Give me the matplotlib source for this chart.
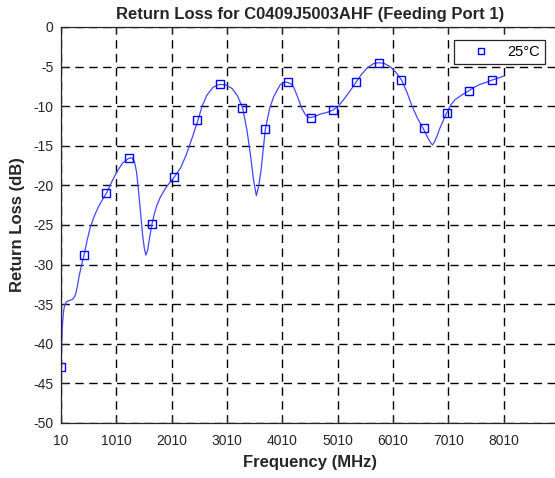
import matplotlib
matplotlib.use("Agg")
import matplotlib.pyplot as plt

# --- data ---
# smooth response curve (MHz, dB)
freq = [10, 22, 34, 50, 70, 100, 131, 175, 215, 250, 276, 305, 336, 380, 427,
        480, 535, 610, 686, 760, 838, 930, 1019, 1120, 1229, 1290, 1338, 1375,
        1410, 1450, 1483, 1515, 1544, 1575, 1604, 1653, 1700, 1743, 1804, 1894,
        1980, 2062, 2170, 2270, 2380, 2484, 2560, 2647, 2760, 2870, 2980, 3100,
        3200, 3292, 3370, 3431, 3490, 3540, 3585, 3625, 3703, 3780, 3853, 3970,
        4050, 4110, 4170, 4212, 4290, 4363, 4430, 4500, 4600, 4694, 4810, 4923,
        5020, 5115, 5230, 5339, 5440, 5538, 5650, 5748, 5850, 5960, 6060, 6165,
        6260, 6346, 6450, 6555, 6640, 6690, 6724, 6760, 6810, 6856, 6977, 7050,
        7127, 7250, 7380, 7480, 7579, 7690, 7801, 7910, 8010]
loss = [-42.9, -40.0, -37.9, -36.3, -35.3, -34.8, -34.6, -34.5, -34.4, -34.1,
        -33.7, -32.8, -31.5, -30.1, -28.8, -27.0, -25.4, -23.9, -22.7, -21.8,
        -20.9, -19.5, -18.3, -17.2, -16.6, -16.5, -17.0, -18.3, -20.6, -23.6,
        -26.1, -27.9, -28.8, -28.2, -26.9, -24.9, -23.5, -22.5, -21.5, -20.4,
        -19.6, -18.9, -17.8, -16.2, -14.0, -11.8, -10.0, -8.6, -7.6, -7.25,
        -7.3, -7.75, -8.7, -10.2, -13.0, -16.0, -19.3, -21.3, -20.0, -18.1,
        -12.9, -10.3, -8.8, -7.3, -6.95, -7.0, -7.2, -7.55, -8.9, -10.3, -11.1,
        -11.45, -11.3, -11.0, -10.8, -10.5, -10.0, -9.2, -8.1, -7.0, -6.0,
        -5.2, -4.65, -4.5, -4.6, -5.0, -5.7, -6.7, -8.2, -9.85, -11.5, -12.8,
        -14.0, -14.6, -14.9, -14.5, -13.7, -12.8, -10.9, -9.9, -9.2, -8.6,
        -8.05, -7.6, -7.25, -7.0, -6.7, -6.45, -6.2]

# marker samples
mk_freq = [10, 420, 830, 1240, 1650, 2060, 2470, 2880, 3290, 3700,
           4110, 4520, 4930, 5340, 5750, 6160, 6570, 6980, 7390, 7800]
mk_loss = [-42.9, -28.8, -20.9, -16.6, -24.9, -18.9, -11.8, -7.2, -10.2, -12.9,
           -7.0, -11.45, -10.5, -7.0, -4.5, -6.7, -12.8, -10.9, -8.05, -6.7]

xticks = [10, 1010, 2010, 3010, 4010, 5010, 6010, 7010, 8010]
yticks = list(range(-50, 1, 5))

plt.rcParams['font.family'] = ['Liberation Sans', 'DejaVu Sans']
plt.rcParams['axes.unicode_minus'] = False
dark = '#262626'

fig = plt.figure(figsize=(5.55, 4.78), dpi=100)
ax = fig.add_axes([61 / 555, 1 - 423 / 478, 498 / 555, 396 / 478])

ax.plot(freq, loss, color='#4646ff', lw=0.9)
ax.plot(mk_freq, mk_loss, ls='none', marker='s', markersize=5.5,
        markerfacecolor='none', markeredgecolor='#0000ff', markeredgewidth=1.0,
        label='25°C')

ax.set_xlim(10, 9010)
ax.set_ylim(-50, 0)
ax.set_xticks(xticks)
ax.set_yticks(yticks)
ax.set_xticklabels([str(t) for t in xticks])
ax.tick_params(direction='in', length=4, width=0.8, colors=dark,
               labelsize=10, top=True)
ax.tick_params(axis='x', pad=8)
ax.tick_params(axis='y', pad=5.5)
for s in ax.spines.values():
    s.set_color(dark)
    s.set_linewidth(0.9)

ax.grid(True, color='black', ls=(0, (6, 4)), lw=1.0)

ax.set_title('Return Loss for C0409J5003AHF (Feeding Port 1)',
             fontsize=12, fontweight='bold', color=dark, pad=6)
ax.set_xlabel('Frequency (MHz)', fontsize=12, fontweight='bold', color=dark,
              labelpad=5)
ax.set_ylabel('Return Loss (dB)', fontsize=12, fontweight='bold', color=dark,
              labelpad=6)

leg = fig.legend(loc='upper right', bbox_to_anchor=(545 / 555, 1 - 40 / 478),
                 fontsize=10.5, fancybox=False, framealpha=1, borderaxespad=0,
                 handlelength=3.0, handletextpad=0.3, borderpad=0.35,
                 markerscale=0.9)
leg.get_frame().set_edgecolor(dark)
leg.get_frame().set_linewidth(0.9)

fig.savefig('out.png', dpi=100)
